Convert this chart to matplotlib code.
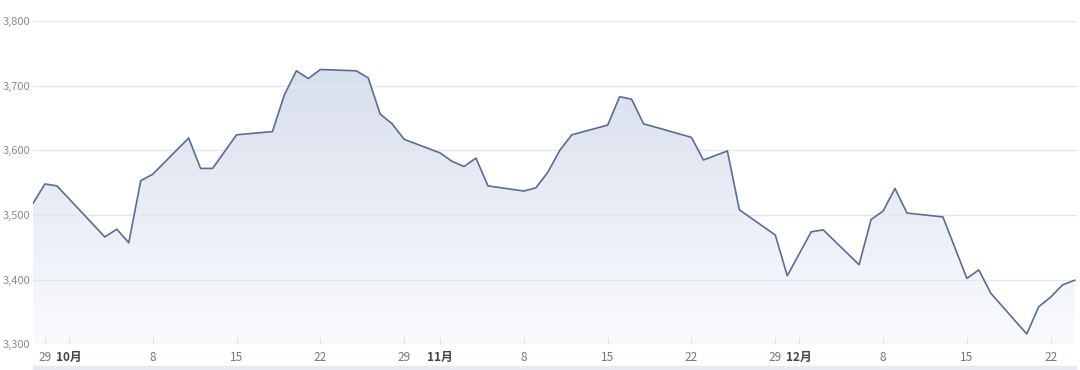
import matplotlib
matplotlib.use("Agg")
import matplotlib.pyplot as plt
import matplotlib.dates as mdates
from matplotlib.colors import LinearSegmentedColormap
from matplotlib.patches import Rectangle
import numpy as np
import pandas as pd

plt.rcParams['font.family'] = ['Noto Sans CJK SC', 'DejaVu Sans']

# trading days and closing values
dates = pd.to_datetime([
    "2021-09-28", "2021-09-29", "2021-09-30",
    "2021-10-04", "2021-10-05", "2021-10-06", "2021-10-07", "2021-10-08",
    "2021-10-11", "2021-10-12", "2021-10-13", "2021-10-15",
    "2021-10-18", "2021-10-19", "2021-10-20", "2021-10-21", "2021-10-22",
    "2021-10-25", "2021-10-26", "2021-10-27", "2021-10-28", "2021-10-29",
    "2021-11-01", "2021-11-02", "2021-11-03", "2021-11-04", "2021-11-05",
    "2021-11-08", "2021-11-09", "2021-11-10", "2021-11-11", "2021-11-12",
    "2021-11-15", "2021-11-16", "2021-11-17", "2021-11-18",
    "2021-11-22", "2021-11-23", "2021-11-25", "2021-11-26",
    "2021-11-29", "2021-11-30", "2021-12-02", "2021-12-03",
    "2021-12-06", "2021-12-07", "2021-12-08", "2021-12-09", "2021-12-10",
    "2021-12-13", "2021-12-15", "2021-12-16", "2021-12-17",
    "2021-12-20", "2021-12-21", "2021-12-22", "2021-12-23", "2021-12-24",
])
values = [
    3518, 3548, 3545,
    3466, 3478, 3457, 3553, 3563,
    3619, 3572, 3572, 3624,
    3629, 3686, 3723, 3711, 3725,
    3723, 3712, 3656, 3641, 3617,
    3596, 3583, 3575, 3588, 3545,
    3537, 3542, 3566, 3600, 3624,
    3639, 3683, 3679, 3641,
    3620, 3585, 3599, 3508,
    3469, 3406, 3474, 3477,
    3423, 3493, 3506, 3541, 3503,
    3497, 3402, 3415, 3379,
    3316, 3358, 3373, 3392, 3399,
]
y_ticks = [3300, 3400, 3500, 3600, 3700, 3800]
x_ticks = pd.to_datetime([
    "2021-09-29", "2021-10-01", "2021-10-08", "2021-10-15", "2021-10-22",
    "2021-10-29", "2021-11-01", "2021-11-08", "2021-11-15", "2021-11-22",
    "2021-11-29", "2021-12-01", "2021-12-08", "2021-12-15", "2021-12-22",
])

fig = plt.figure(figsize=(10.8, 3.7), dpi=100)
fig.patch.set_facecolor("white")
ax = fig.add_axes([33 / 1080, 25.7 / 370, 1044 / 1080, 323.3 / 370])

line_color = "#5a6d95"
ax.plot(dates, values, color=line_color, lw=1.2, zorder=3)

# gradient area under the line
poly = ax.fill_between(dates, values, 3300, facecolor="none", edgecolor="none")
cmap = LinearSegmentedColormap.from_list("area", ["#fafbfd", "#d8dfed"])
grad = np.linspace(0, 1, 256).reshape(-1, 1)
x0 = mdates.date2num(pd.Timestamp("2021-09-28"))
x1 = mdates.date2num(pd.Timestamp("2021-12-24"))
img = ax.imshow(grad, cmap=cmap, aspect="auto", origin="lower",
                extent=[x0, x1, 3300, max(values)], zorder=1)
img.set_clip_path(poly.get_paths()[0], transform=ax.transData)

ax.set_xlim(x0, x1 + 0.2)
ax.set_ylim(3300, 3800)

for s in ax.spines.values():
    s.set_visible(False)
ax.set_yticks(y_ticks)
ax.set_yticklabels([f"{v:,}" for v in y_ticks])
# grid drawn over the area fill, under the line
ax.grid(axis="y", color="#e3e6ec", lw=1, zorder=2)
ax.set_axisbelow(False)
ax.tick_params(axis="y", length=0, pad=2, labelsize=8, labelcolor="#8c8c8c")

ax.set_xticks(x_ticks)
labels = []
for d in x_ticks:
    labels.append(f"{d.month}月" if d.day == 1 else str(d.day))
ax.set_xticklabels(labels)
ax.tick_params(axis="x", direction="in", length=5, color="#e0e0e0",
               pad=5, labelsize=8.5, labelcolor="#777777")
for lab, d in zip(ax.get_xticklabels(), x_ticks):
    if d.day == 1:
        lab.set_fontweight("bold")
        lab.set_color("#444444")

# slider strip at the bottom
fig.patches.append(Rectangle((33 / 1080, 0), 1043 / 1080, 4 / 370,
                             transform=fig.transFigure, color="#e6eaf2", zorder=0))

fig.savefig("out.png", dpi=100, facecolor="white")
